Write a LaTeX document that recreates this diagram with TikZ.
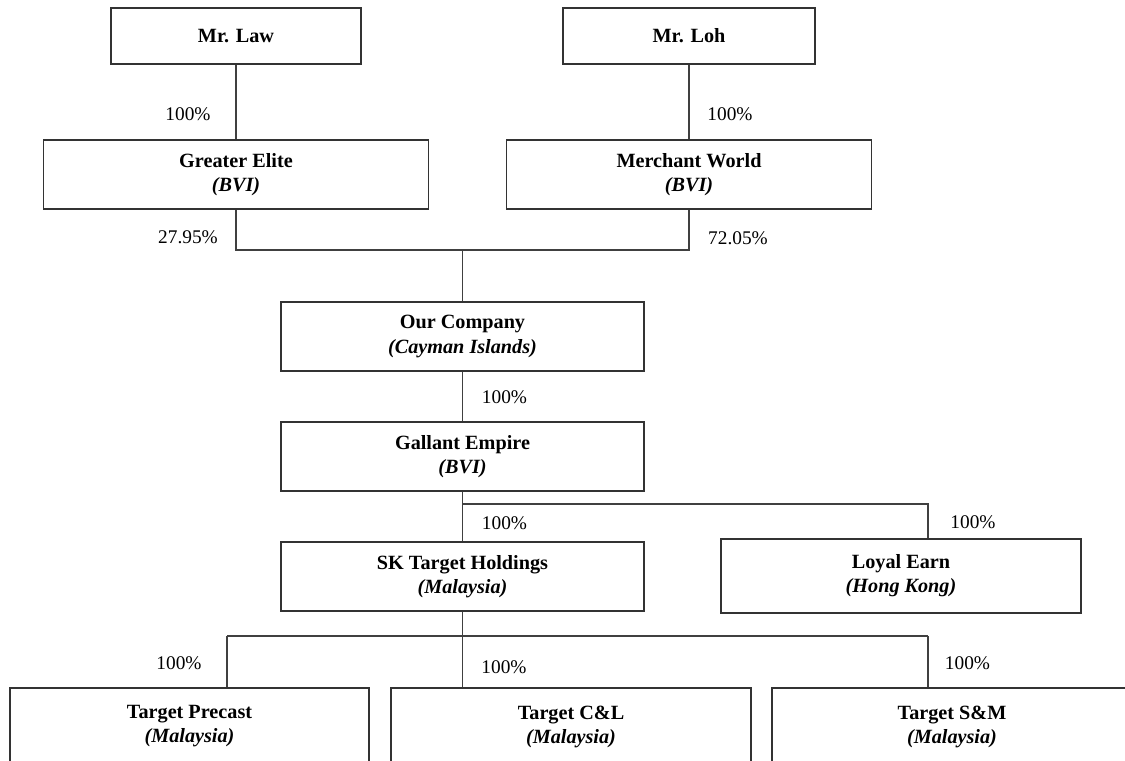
\documentclass[tikz,border=0pt]{standalone}
\usepackage{fontspec}
\setmainfont{Liberation Serif}
\usepackage{tikz}
\usetikzlibrary{calc}
\tikzset{entity/.style = {shape=rectangle,draw=black!80,line width=0.6pt,align=center,
  minimum width=7.26cm,minimum height=1.38cm,inner sep=0pt,font=\fontsize{11.5}{13.7}\selectfont}}
\tikzset{link/.style = {draw=black!75,line width=0.6pt}}
\tikzset{pct/.style = {inner sep=0pt,font=\fontsize{11}{13}\selectfont}}
\newcommand{\corp}[2]{\textbf{#1}\\\textbf{\textit{(#2)}}}

\begin{document}
\begin{tikzpicture}
                    \clip (0,0) rectangle (22.5,-15.2);
                    \node[entity, minimum width=5cm, minimum height=1.12cm] (law) at (4.72,-0.72) {\textbf{Mr. Law}};
                    \node[entity, minimum width=5.04cm, minimum height=1.12cm] (loh) at (13.78,-0.72) {\textbf{Mr. Loh}};
                    \node[entity, minimum width=7.7cm] (elite) at (4.72,-3.49) {\corp{Greater Elite}{BVI}};
                    \node[entity, minimum width=7.3cm] (merchant) at (13.78,-3.49) {\corp{Merchant World}{BVI}};
                    \node[entity] (ourco) at (9.25,-6.73) {\corp{Our Company}{Cayman Islands}};
                    \node[entity] (gallant) at (9.25,-9.13) {\corp{Gallant Empire}{BVI}};
                    \node[entity] (sk) at (9.25,-11.53) {\corp{SK Target Holdings}{Malaysia}};
                    \node[entity, minimum width=7.2cm, minimum height=1.48cm] (loyal) at (18.02,-11.52) {\corp{Loyal Earn}{Hong Kong}};
                    \node[entity, minimum width=7.18cm, minimum height=1.54cm] (precast) at (3.79,-14.53) {\corp{Target Precast}{Malaysia}};
                    \node[entity, minimum width=7.2cm, minimum height=1.54cm] (cl) at (11.42,-14.53) {\corp{Target C\&L}{Malaysia}};
                    \node[entity, minimum width=7.2cm, minimum height=1.54cm] (sm) at (19.04,-14.53) {\corp{Target S\&M}{Malaysia}};

                    \coordinate (top) at (9.25,-5.0);
                    \coordinate (mid) at (9.25,-10.08);
                    \coordinate (low) at (9.25,-12.72);
                    \coordinate (lowleft) at (4.54,-12.72);
                    \coordinate (lowright) at (18.56,-12.72);

                    \draw[link] (law) -- (elite);
                    \draw[link] (loh) -- (merchant);
                    \draw[link] (elite.south) |- (top) -| (merchant.south);
                    \draw[link] (top) -- (ourco);
                    \draw[link] (ourco) -- (gallant);
                    \draw[link] (gallant) -- (sk);
                    \draw[link] (mid) -| (loyal.north -| lowright);
                    \draw[link] (sk.south) -- (sk.south |- cl.north);
                    \draw[link] (lowleft) -- (lowright);
                    \draw[link] (lowleft) -- (lowleft |- precast.north);
                    \draw[link] (lowright) -- (lowright |- sm.north);

                    \node[pct] (p1) at (3.76,-2.28) {100\%};
                    \node[pct] (p2) at (14.6,-2.28) {100\%};
                    \node[pct] (p3) at (3.76,-4.74) {27.95\%};
                    \node[pct] (p4) at (14.76,-4.76) {72.05\%};
                    \node[pct] (p5) at (10.09,-7.94) {100\%};
                    \node[pct] (p6) at (10.09,-10.46) {100\%};
                    \node[pct] (p7) at (19.46,-10.44) {100\%};
                    \node[pct] (p8) at (3.58,-13.26) {100\%};
                    \node[pct] (p9) at (10.08,-13.34) {100\%};
                    \node[pct] (p10) at (19.35,-13.26) {100\%};
                \end{tikzpicture}
\end{document}
